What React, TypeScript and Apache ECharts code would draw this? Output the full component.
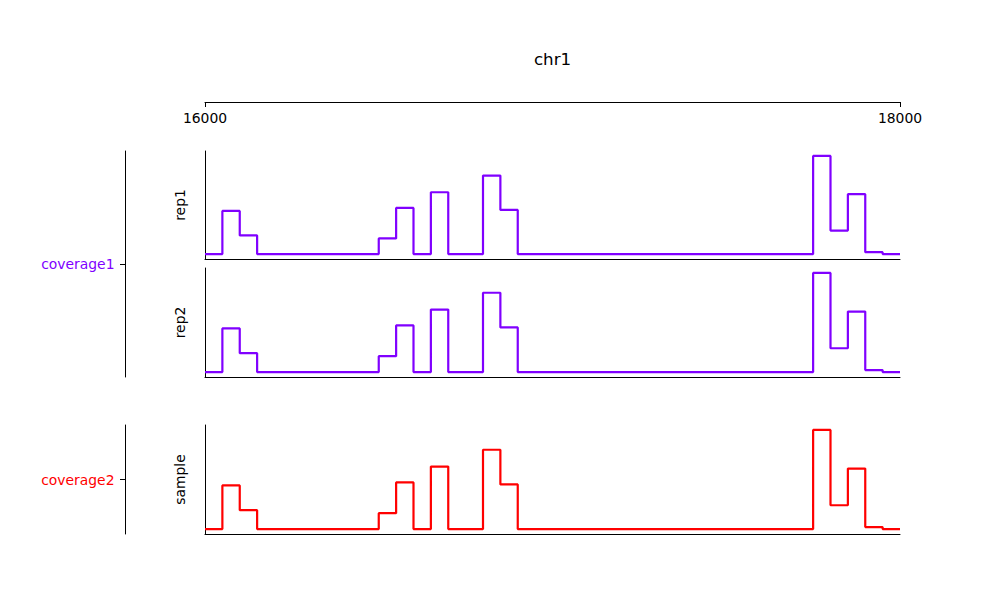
import React, { useEffect, useRef } from "react";
import * as echarts from "echarts";

// Change points (bp) of the binned coverage; value i holds from position i to position i+1
const positions = [16000, 16050, 16100, 16150, 16500, 16550, 16600, 16650, 16700, 16800, 16850, 16900, 17750, 17800, 17850, 17900, 17950, 18000];
const rep1Values = [0, 22, 9.5, 0, 8, 23.5, 0, 31.5, 0, 40, 22.5, 0, 50, 12, 30.5, 1, 0];
const rep2Values = [0, 22, 9.5, 0, 8, 23.5, 0, 31.5, 0, 40, 22.5, 0, 50, 12, 30.5, 1, 0];
const sampleValues = [0, 22, 9.5, 0, 8, 23.5, 0, 31.5, 0, 40, 22.5, 0, 50, 12, 30.5, 1, 0];

const trackNames = ["rep1", "rep2", "sample"];
const groupNames = ["coverage1", "coverage2"];
const topTicks = [16000, 18000];
const chromName = "chr1";

const PURPLE = "#8000ff";
const RED = "#ff0000";
const FONT = "DejaVu Sans";
const FS = 13.9;

function toPoints(vals: number[]): [number, number][] {
  const pts: [number, number][] = vals.map((v, i) => [positions[i], v]);
  pts.push([positions[positions.length - 1], vals[vals.length - 1]]);
  return pts;
}

export default function App() {
  const ref = useRef<HTMLDivElement>(null);
  useEffect(() => {
    if (!ref.current) return;
    const chart = echarts.init(ref.current, undefined, { renderer: "svg" });
    const xMin = topTicks[0];
    const xMax = topTicks[topTicks.length - 1];
    const yMin = -2.5;
    const yMax = 52.5;
    const grids = [
      { left: 205, top: 151, width: 695, height: 108 },
      { left: 205, top: 268, width: 695, height: 109 },
      { left: 205, top: 425, width: 695, height: 109 },
      { left: 125, top: 151, width: 10, height: 226 },
      { left: 125, top: 425, width: 10, height: 109 },
    ];
    const lineAxis = { show: true, onZero: false, lineStyle: { color: "#000", width: 1 } };
    const trackX = [0, 1, 2].map((g) => ({
      type: "value",
      gridIndex: g,
      min: xMin,
      max: xMax,
      axisLine: lineAxis,
      axisTick: { show: false },
      axisLabel: { show: false },
      splitLine: { show: false },
    }));
    const topX = {
      type: "value",
      gridIndex: 0,
      position: "top",
      offset: 49,
      min: xMin,
      max: xMax,
      interval: xMax - xMin,
      axisLine: lineAxis,
      axisTick: { show: true, inside: true, length: 5, lineStyle: { color: "#000" } },
      axisLabel: {
        show: true,
        inside: true,
        margin: 9,
        color: "#000",
        fontFamily: FONT,
        fontSize: FS,
        showMinLabel: true,
        showMaxLabel: true,
        formatter: (v: number) => String(v),
      },
      splitLine: { show: false },
    };
    const groupX = [3, 4].map((g) => ({ type: "value", gridIndex: g, show: false }));
    const trackY = [0, 1, 2].map((g) => ({
      type: "value",
      gridIndex: g,
      min: yMin,
      max: yMax,
      name: trackNames[g],
      nameLocation: "middle",
      nameGap: 18,
      nameRotate: 90,
      nameTextStyle: { color: "#000", fontFamily: FONT, fontSize: FS },
      axisLine: lineAxis,
      axisTick: { show: false },
      axisLabel: { show: false },
      splitLine: { show: false },
    }));
    const groupY = [3, 4].map((g, i) => ({
      type: "category",
      gridIndex: g,
      data: [groupNames[i]],
      axisLine: lineAxis,
      axisTick: { show: true, alignWithLabel: true, length: 5, lineStyle: { color: "#000" } },
      axisLabel: {
        show: true,
        margin: 10.5,
        color: i === 0 ? PURPLE : RED,
        fontFamily: FONT,
        fontSize: FS,
      },
      splitLine: { show: false },
    }));
    const mkSeries = (vals: number[], idx: number, color: string) => ({
      type: "line",
      step: "end",
      xAxisIndex: idx,
      yAxisIndex: idx,
      data: toPoints(vals),
      showSymbol: false,
      lineStyle: { color, width: 2.2 },
      itemStyle: { color },
      clip: false,
    });
    chart.setOption({
      animation: false,
      backgroundColor: "#fff",
      grid: grids,
      xAxis: [...trackX, topX, ...groupX],
      yAxis: [...trackY, ...groupY],
      series: [
        mkSeries(rep1Values, 0, PURPLE),
        mkSeries(rep2Values, 1, PURPLE),
        mkSeries(sampleValues, 2, RED),
      ],
      graphic: [
        {
          type: "text",
          x: 552.5,
          y: 59,
          style: {
            text: chromName,
            align: "center",
            verticalAlign: "middle",
            fontFamily: FONT,
            fontSize: 16.7,
            fill: "#000",
          },
        },
      ],
    });
    return () => chart.dispose();
  }, []);
  return (
    <div
      ref={ref}
      style={{ position: "fixed", left: 0, top: 0, width: 1000, height: 600, background: "#fff" }}
    />
  );
}
